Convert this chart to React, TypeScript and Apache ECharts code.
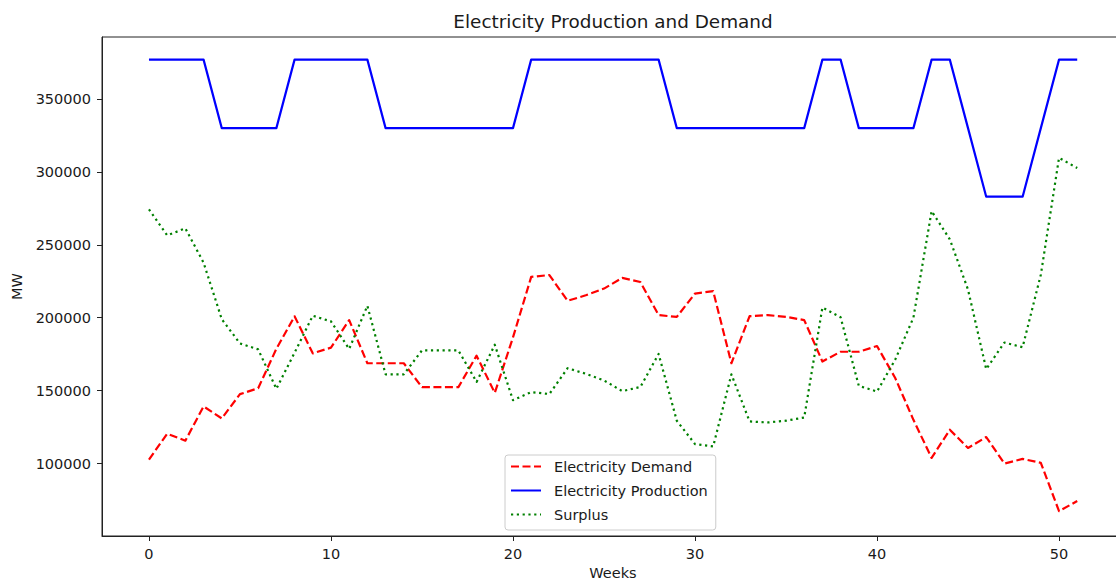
import React, { useEffect, useRef } from "react";
import * as echarts from "echarts";

const weeks: number[] = Array.from({ length: 52 }, (_, i) => i);

const demand: number[] = [
  102700, 120500, 115700, 139200, 131000, 147600, 151700, 178700, 201000, 175600,
  179500, 198400, 168800, 168800, 168800, 152400, 152400, 152400, 174000, 148500,
  186500, 228000, 229300, 211600, 215400, 220000, 227300, 224500, 201800, 200600,
  216600, 218200, 168800, 201100, 201800, 200600, 198400, 170000, 176700, 176700,
  180600, 158700, 130000, 103900, 123200, 110700, 118200, 100000, 103200, 100500,
  67400, 74300,
];

const production: number[] = [
  377000, 377000, 377000, 377000, 330000, 330000, 330000, 330000, 377000, 377000,
  377000, 377000, 377000, 330000, 330000, 330000, 330000, 330000, 330000, 330000,
  330000, 377000, 377000, 377000, 377000, 377000, 377000, 377000, 377000, 330000,
  330000, 330000, 330000, 330000, 330000, 330000, 330000, 377000, 377000, 330000,
  330000, 330000, 330000, 377000, 377000, 330000, 283000, 283000, 283000, 330000,
  377000, 377000,
];

const surplus: number[] = [
  274300, 256500, 261300, 237800, 199000, 182400, 178300, 151300, 176000, 201400,
  197500, 178600, 208200, 161200, 161200, 177600, 177600, 177600, 156000, 181500,
  143500, 149000, 147700, 165400, 161600, 157000, 149700, 152500, 175200, 129400,
  113400, 111800, 161200, 128900, 128200, 129400, 131600, 207000, 200300, 153300,
  149400, 171300, 200000, 273100, 253800, 219300, 164800, 183000, 179800, 229500,
  309600, 302700,
];

const xTicks: number[] = [0, 10, 20, 30, 40, 50];
const yTicks: number[] = [100000, 150000, 200000, 250000, 300000, 350000];

const FONT = "DejaVu Sans";
const TXT = "#1a1a1a";

export default function App() {
  const ref = useRef<HTMLDivElement>(null);

  useEffect(() => {
    if (!ref.current) return;
    const chart = echarts.init(ref.current, undefined, { renderer: "svg" });
    const pairs = (vals: number[]) => weeks.map((w, i) => [w, vals[i]]);
    chart.setOption({
      animation: false,
      backgroundColor: "#ffffff",
      title: {
        text: "Electricity Production and Demand",
        left: 608,
        textAlign: "center",
        top: 7,
        textStyle: { fontFamily: FONT, fontSize: 18.4, fontWeight: "normal", color: TXT },
      },
      legend: {
        orient: "vertical",
        left: 505,
        top: 455,
        padding: [4, 8, 8, 5],
        itemWidth: 30,
        itemHeight: 14,
        itemGap: 9,
        borderColor: "#cccccc",
        borderWidth: 1,
        borderRadius: 3,
        backgroundColor: "rgba(255,255,255,0.8)",
        itemStyle: { opacity: 0 },
        textStyle: { fontFamily: FONT, fontSize: 14.5, color: TXT, padding: [0, 0, 0, 8] },
        data: ["Electricity Demand", "Electricity Production", "Surplus"],
      },
      grid: {
        left: 102,
        top: 37,
        width: 1022,
        height: 499,
        show: true,
        containLabel: false,
        outerBoundsMode: "none",
        borderColor: "#222",
        borderWidth: 1,
        backgroundColor: "transparent",
      },
      xAxis: {
        type: "value",
        min: -2.58,
        max: 53.57,
        name: "Weeks",
        nameLocation: "middle",
        nameGap: 27,
        nameTextStyle: { fontFamily: FONT, fontSize: 14.5, color: TXT },
        axisLine: { show: true, onZero: false, lineStyle: { color: "#222", width: 1 } },
        axisTick: { show: true, length: 5, inside: false, customValues: xTicks, lineStyle: { color: "#222" } },
        axisLabel: {
          customValues: xTicks,
          margin: 10,
          fontFamily: FONT,
          fontSize: 14.5,
          color: TXT,
          formatter: (v: number) => String(v),
        },
        splitLine: { show: false },
      },
      yAxis: {
        type: "value",
        min: 50350,
        max: 392504,
        name: "MW",
        nameLocation: "middle",
        nameRotate: 90,
        nameGap: 78,
        nameTextStyle: { fontFamily: FONT, fontSize: 14.5, color: TXT },
        axisLine: { show: true, onZero: false, lineStyle: { color: "#222", width: 1 } },
        axisTick: { show: true, length: 5, inside: false, customValues: yTicks, lineStyle: { color: "#222" } },
        axisLabel: {
          customValues: yTicks,
          margin: 11,
          fontFamily: FONT,
          fontSize: 14.5,
          color: TXT,
          formatter: (v: number) => String(v),
        },
        splitLine: { show: false },
      },
      series: [
        {
          name: "Electricity Demand",
          type: "line",
          data: pairs(demand),
          symbol: "none",
          lineStyle: { color: "#ff0000", width: 2.2, type: [8, 3.5], join: "round" },
          itemStyle: { color: "#ff0000" },
        },
        {
          name: "Electricity Production",
          type: "line",
          data: pairs(production),
          symbol: "none",
          lineStyle: { color: "#0000ff", width: 2.2, type: "solid", join: "round" },
          itemStyle: { color: "#0000ff" },
        },
        {
          name: "Surplus",
          type: "line",
          data: pairs(surplus),
          symbol: "none",
          lineStyle: { color: "#008000", width: 2.2, type: [2.2, 3.6], join: "round" },
          itemStyle: { color: "#008000" },
        },
      ],
    });
    return () => chart.dispose();
  }, []);

  return (
    <div
      ref={ref}
      style={{ position: "absolute", left: 0, top: 0, width: 1116, height: 581 }}
    />
  );
}
